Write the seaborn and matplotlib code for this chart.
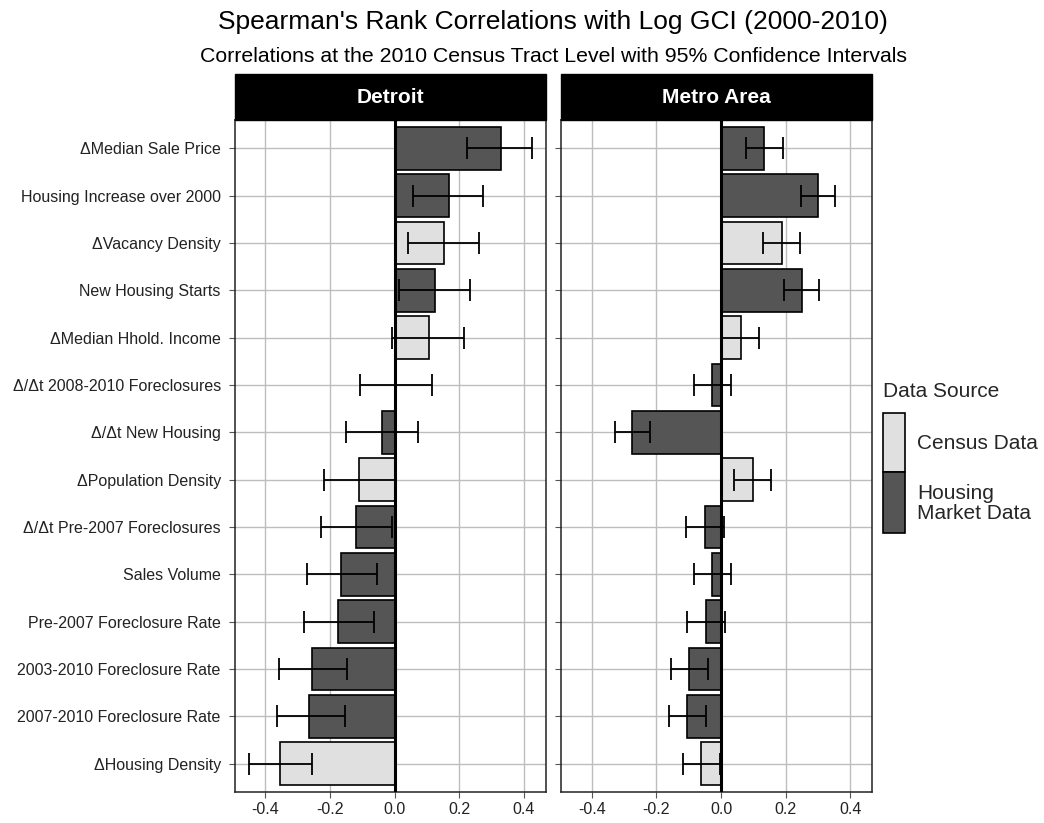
import numpy as np
import pandas as pd
import matplotlib
matplotlib.use("Agg")
import matplotlib.pyplot as plt
from matplotlib.patches import Rectangle
import seaborn as sns

labels = ["ΔMedian Sale Price", "Housing Increase over 2000", "ΔVacancy Density",
          "New Housing Starts", "ΔMedian Hhold. Income", "Δ/Δt 2008-2010 Foreclosures",
          "Δ/Δt New Housing", "ΔPopulation Density", "Δ/Δt Pre-2007 Foreclosures",
          "Sales Volume", "Pre-2007 Foreclosure Rate", "2003-2010 Foreclosure Rate",
          "2007-2010 Foreclosure Rate", "ΔHousing Density"]
source = ["Housing Market Data", "Housing Market Data", "Census Data", "Housing Market Data",
          "Census Data", "Housing Market Data", "Housing Market Data", "Census Data",
          "Housing Market Data", "Housing Market Data", "Housing Market Data",
          "Housing Market Data", "Housing Market Data", "Census Data"]

detroit_r = [0.328, 0.167, 0.153, 0.126, 0.105, 0.004, -0.039, -0.109, -0.119, -0.165, -0.174, -0.255, -0.265, -0.356]
detroit_lo = [0.224, 0.056, 0.042, 0.013, -0.007, -0.107, -0.150, -0.218, -0.227, -0.271, -0.280, -0.357, -0.365, -0.451]
detroit_hi = [0.424, 0.274, 0.260, 0.234, 0.215, 0.116, 0.073, 0.000, -0.007, -0.054, -0.063, -0.147, -0.155, -0.255]

metro_r = [0.134, 0.300, 0.188, 0.249, 0.061, -0.027, -0.275, 0.099, -0.049, -0.027, -0.047, -0.099, -0.104, -0.062]
metro_lo = [0.077, 0.247, 0.131, 0.194, 0.004, -0.085, -0.328, 0.041, -0.107, -0.084, -0.105, -0.155, -0.160, -0.119]
metro_hi = [0.191, 0.352, 0.244, 0.302, 0.118, 0.031, -0.220, 0.156, 0.009, 0.031, 0.011, -0.041, -0.045, -0.004]

panels = ["Detroit", "Metro Area"]
xticks = [-0.4, -0.2, 0.0, 0.2, 0.4]
src_order = ["Census Data", "Housing Market Data"]
palette = {"Census Data": "#E0E0E0", "Housing Market Data": "#555555"}

sns.set_style("white")
plt.rcParams['font.family'] = ['Liberation Sans', 'DejaVu Sans']

fig = plt.figure(figsize=(10.44, 8.23), dpi=100)
W, H = 1044, 823
def fx(px): return px / W
def fy(py): return 1 - py / H

ax_bottom = fy(792)
ax_top = fy(120)
ax_lefts = [234.7, 561.0]
ax_w = 311.0

data_sets = [(detroit_r, detroit_lo, detroit_hi), (metro_r, metro_lo, metro_hi)]

for i, (name, (r, lo, hi)) in enumerate(zip(panels, data_sets)):
    ax = fig.add_axes([fx(ax_lefts[i]), ax_bottom, fx(ax_w), ax_top - ax_bottom])
    df = pd.DataFrame({"label": labels, "r": r, "lo": lo, "hi": hi, "source": source})
    ax.set_axisbelow(True)
    sns.barplot(data=df, y="label", x="r", hue="source", hue_order=src_order,
                order=labels, palette=palette, dodge=False, width=0.9,
                edgecolor="black", linewidth=1.2, legend=False, ax=ax, zorder=2)
    ax.grid(True, which="major", axis="both", color="#BDBDBD", linewidth=1.0)
    ypos = np.arange(len(labels))
    r_a = np.array(r); lo_a = np.array(lo); hi_a = np.array(hi)
    ax.errorbar(r_a, ypos, xerr=[r_a - lo_a, hi_a - r_a], fmt="none", ecolor="black",
                elinewidth=1.3, capsize=8, capthick=1.3, zorder=4)
    ax.axvline(0, color="black", linewidth=2.2, zorder=5)
    ax.set_xlim(-0.495, 0.467)
    ax.set_ylim(len(labels) - 0.4, -0.6)
    ax.set_xticks(xticks)
    ax.set_xticklabels([f"{t:.1f}" for t in xticks])
    ax.set_xlabel("")
    ax.set_ylabel("")
    ax.tick_params(axis="both", length=4, width=0.8, color="#555555", labelsize=11.5,
                   labelcolor="#222222", left=True, bottom=True)
    ax.tick_params(axis="y", pad=6)
    ax.tick_params(axis="x", pad=3)
    if i > 0:
        ax.set_yticklabels([])
    for s in ax.spines.values():
        s.set_visible(True)
        s.set_color("#222222")
        s.set_linewidth(1.1)
    # strip
    strip = Rectangle((fx(ax_lefts[i]), fy(120)), fx(ax_w), fy(74) - fy(120),
                      transform=fig.transFigure, facecolor="black", edgecolor="black")
    fig.patches.append(strip)
    fig.text(fx(ax_lefts[i] + ax_w / 2), fy(97.5), name, color="white", fontsize=15,
             fontweight="bold", ha="center", va="center")

center = fx((234.7 + 561.0 + ax_w) / 2)
fig.text(center, fy(22), "Spearman's Rank Correlations with Log GCI (2000-2010)",
         fontsize=19, ha="center", va="center", color="black")
fig.text(center, fy(57), "Correlations at the 2010 Census Tract Level with 95% Confidence Intervals",
         fontsize=15.3, ha="center", va="center", color="black")

# legend
fig.text(fx(883), fy(392), "Data Source", fontsize=15, ha="left", va="center")
leg_keys = [(413, 472, "Census Data"), (472, 533, "Housing\nMarket Data")]
for (y0, y1, lab), key in zip(leg_keys, src_order):
    fig.patches.append(Rectangle((fx(883), fy(y1)), fx(22), fy(y0) - fy(y1),
                                 transform=fig.transFigure, facecolor=palette[key],
                                 edgecolor="black", linewidth=1.2))
    fig.text(fx(917), fy((y0 + y1) / 2 + 1), lab, fontsize=15, ha="left", va="center",
             linespacing=1.1)

fig.savefig("out.png", dpi=100)
